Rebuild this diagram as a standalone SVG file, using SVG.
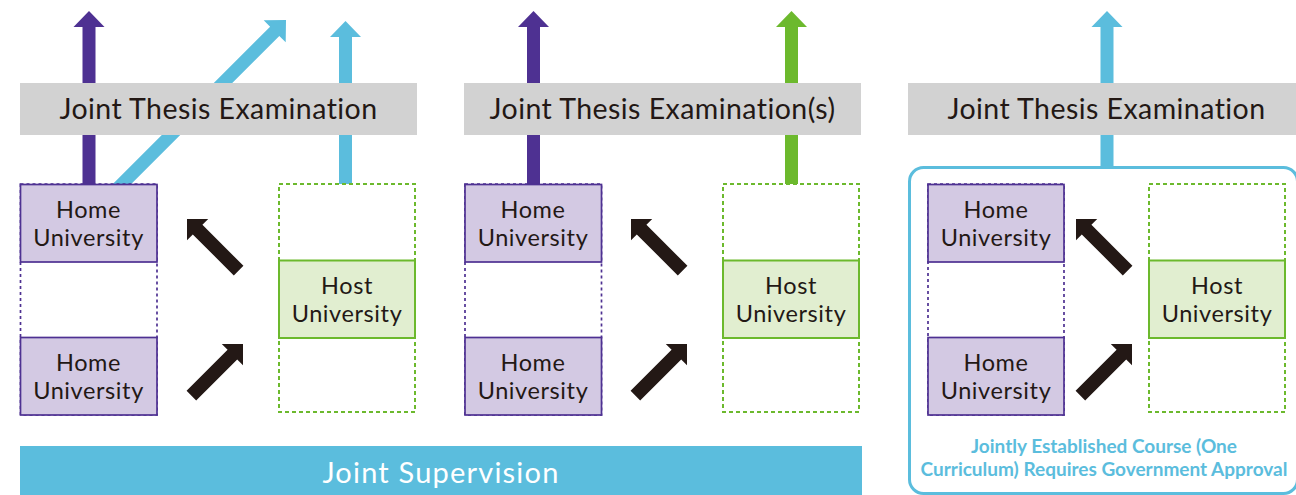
<svg xmlns="http://www.w3.org/2000/svg" xmlns:xlink="http://www.w3.org/1999/xlink" width="1296" height="495" viewBox="0 0 1296 495">
  <style>
    .bar { fill: #d2d2d2; }
    .bar-text { font-family: Lato, "Noto Sans", sans-serif; font-size: 28.5px; letter-spacing: 0.45px; fill: #231815; text-anchor: middle; }
    .home { fill: #d3c9e3; stroke: #4e3192; stroke-width: 1.7; }
    .home-col { fill: none; stroke: #4e3192; stroke-width: 1.7; stroke-dasharray: 3 3; }
    .host { fill: #e1eed0; stroke: #6cb92d; stroke-width: 2; }
    .host-col { fill: none; stroke: #6cb92d; stroke-width: 2; stroke-dasharray: 4 3; }
    .label { font-family: Lato, "Noto Sans", sans-serif; font-size: 23.5px; letter-spacing: 0.6px; fill: #231815; text-anchor: middle; }
    .purple { fill: #4e3192; }
    .cyan { fill: #5bbddd; }
    .green { fill: #6cb92d; }
    .black { fill: #231815; }
    .supervision { fill: #5bbddd; }
    .sup-text { font-family: Lato, "Noto Sans", sans-serif; font-size: 29px; letter-spacing: 1.2px; fill: #ffffff; text-anchor: middle; }
    .frame { fill: none; stroke: #5bbddd; stroke-width: 3; }
    .note { font-family: Lato, "Noto Sans", sans-serif; font-size: 19px; font-weight: bold; fill: #5bbddd; text-anchor: middle; }
  </style>
  <defs>
    <!-- short black arrow, tip at origin, pointing up -->
    <path id="move-arrow" d="M0,0 L15,15 L6.8,15 L6.8,73 L-6.8,73 L-6.8,15 L-15,15 Z"/>
  </defs>

  <!-- connectors: arrows to degrees and exchange arrows -->
  <g id="connectors">
    <!-- panel 1 -->
    <polygon class="purple" points="89,11 104.5,27 95.5,27 95.5,185 82.5,185 82.5,27 73.5,27"/>
    <polygon class="cyan" points="286,20 285.7,42.3 279.3,35.9 131.2,184 112.8,184 270.1,26.7 263.7,20.3"/>
    <polygon class="cyan" points="345.5,21 361,37 352,37 352,184 339,184 339,37 330,37"/>
    <use href="#move-arrow" class="black" transform="translate(187,219) rotate(-45)"/>
    <use href="#move-arrow" class="black" transform="translate(243,344) rotate(45)"/>
    <!-- panel 2 -->
    <polygon class="purple" points="533.5,11 549,27 540,27 540,185 527,185 527,27 518,27"/>
    <polygon class="green" points="791.5,11 807,27 798,27 798,184 785,184 785,27 776,27"/>
    <use href="#move-arrow" class="black" transform="translate(631,219) rotate(-45)"/>
    <use href="#move-arrow" class="black" transform="translate(687,344) rotate(45)"/>
    <!-- panel 3 -->
    <polygon class="cyan" points="1107,11 1122.5,27 1113.5,27 1113.5,168 1100.5,168 1100.5,27 1091.5,27"/>
    <use href="#move-arrow" class="black" transform="translate(1076,219) rotate(-45)"/>
    <use href="#move-arrow" class="black" transform="translate(1132,344) rotate(45)"/>
  </g>

  <!-- examination bars -->
  <g id="exam-1">
    <rect class="bar" x="20" y="83" width="397" height="52"/>
    <text class="bar-text" x="218.5" y="119">Joint Thesis Examination</text>
  </g>
  <g id="exam-2">
    <rect class="bar" x="464" y="83" width="397" height="52"/>
    <text class="bar-text" x="662.5" y="119">Joint Thesis Examination(s)</text>
  </g>
  <g id="exam-3">
    <rect class="bar" x="908" y="83" width="397" height="52"/>
    <text class="bar-text" x="1106.5" y="119">Joint Thesis Examination</text>
  </g>

  <!-- panel 1 universities -->
  <g id="home-col-1"><rect class="home-col" x="20.5" y="184" width="136.5" height="231"/></g>
  <g id="home-1a">
    <rect class="home" x="20.5" y="184.5" width="136.5" height="77.5"/>
    <text class="label" x="88.5" y="218">Home</text>
    <text class="label" x="88.5" y="246">University</text>
  </g>
  <g id="home-1b">
    <rect class="home" x="20.5" y="337.5" width="136.5" height="77.5"/>
    <text class="label" x="88.5" y="371">Home</text>
    <text class="label" x="88.5" y="399">University</text>
  </g>
  <g id="host-col-1"><rect class="host-col" x="279" y="184" width="136" height="228"/></g>
  <g id="host-1">
    <rect class="host" x="279" y="260.5" width="136" height="77.5"/>
    <text class="label" x="347" y="294">Host</text>
    <text class="label" x="347" y="322">University</text>
  </g>

  <!-- panel 2 universities -->
  <g id="home-col-2"><rect class="home-col" x="465" y="184" width="136.5" height="231"/></g>
  <g id="home-2a">
    <rect class="home" x="465" y="184.5" width="136.5" height="77.5"/>
    <text class="label" x="533" y="218">Home</text>
    <text class="label" x="533" y="246">University</text>
  </g>
  <g id="home-2b">
    <rect class="home" x="465" y="337.5" width="136.5" height="77.5"/>
    <text class="label" x="533" y="371">Home</text>
    <text class="label" x="533" y="399">University</text>
  </g>
  <g id="host-col-2"><rect class="host-col" x="723" y="184" width="136" height="228"/></g>
  <g id="host-2">
    <rect class="host" x="723" y="260.5" width="136" height="77.5"/>
    <text class="label" x="791" y="294">Host</text>
    <text class="label" x="791" y="322">University</text>
  </g>

  <!-- joint supervision bar -->
  <g id="joint-supervision">
    <rect class="supervision" x="20" y="446" width="842" height="49"/>
    <text class="sup-text" x="441" y="483">Joint Supervision</text>
  </g>

  <!-- panel 3: jointly established course -->
  <g id="joint-course">
    <rect class="frame" x="909.5" y="167.5" width="388" height="326" rx="14"/>
    <text class="note" x="1104" y="453">Jointly Established Course (One</text>
    <text class="note" x="1104" y="476">Curriculum) Requires Government Approval</text>
  </g>
  <g id="home-col-3"><rect class="home-col" x="928" y="184" width="136" height="231"/></g>
  <g id="home-3a">
    <rect class="home" x="928" y="184.5" width="136" height="77.5"/>
    <text class="label" x="996" y="218">Home</text>
    <text class="label" x="996" y="246">University</text>
  </g>
  <g id="home-3b">
    <rect class="home" x="928" y="337.5" width="136" height="77.5"/>
    <text class="label" x="996" y="371">Home</text>
    <text class="label" x="996" y="399">University</text>
  </g>
  <g id="host-col-3"><rect class="host-col" x="1149" y="184" width="136" height="228"/></g>
  <g id="host-3">
    <rect class="host" x="1149" y="260.5" width="136" height="77.5"/>
    <text class="label" x="1217" y="294">Host</text>
    <text class="label" x="1217" y="322">University</text>
  </g>
</svg>
